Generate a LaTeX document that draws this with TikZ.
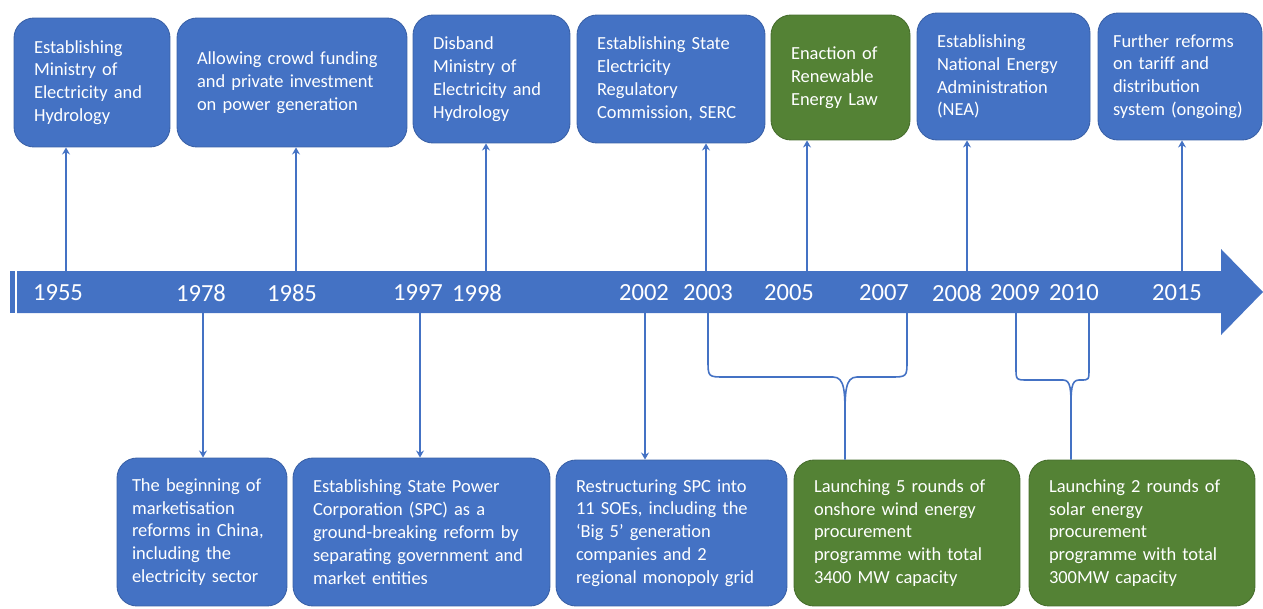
\documentclass[tikz,border=0pt]{standalone}
\usepackage{fontspec}
\setmainfont{Carlito}
\usetikzlibrary{arrows.meta}
\definecolor{tlblue}{HTML}{4472C4}
\definecolor{tlgreen}{HTML}{548235}
\tikzset{
  event/.style={
    rectangle, rounded corners=0.4cm, draw=#1!85!black, line width=0.5pt,
    fill=#1, text=white, align=left, inner xsep=0.4cm, inner ysep=0pt,
    font=\fontsize{10.5}{13}\selectfont
  },
  year/.style={text=white, inner sep=0pt, font=\fontsize{14}{16}\selectfont},
  link/.style={-{Stealth[length=4pt,width=4.5pt]}, line width=0.9pt, tlblue},
  brace/.style={line width=0.9pt, tlblue}
}

\begin{document}
\begin{tikzpicture}[x=0.02cm, y=-0.02cm]
  \useasboundingbox (0,0) rectangle (1263,608);
  % Time bar
  \fill[tlblue] (10,271) rectangle (15,313);
  \fill[tlblue] (17,271) -- (1221,271) -- (1221,249) -- (1263,292)
    -- (1221,335) -- (1221,313) -- (17,313) -- cycle;
  % Years
  \node[year] (y1955) at (58,293) {1955};
  \node[year] (y1978) at (201,293) {1978};
  \node[year] (y1985) at (292,293) {1985};
  \node[year] (y1997) at (418,293) {1997};
  \node[year] (y1998) at (477,293) {1998};
  \node[year] (y2002) at (644,293) {2002};
  \node[year] (y2003) at (708,293) {2003};
  \node[year] (y2005) at (789,293) {2005};
  \node[year] (y2007) at (884,293) {2007};
  \node[year] (y2008) at (957,293) {2008};
  \node[year] (y2009) at (1015,293) {2009};
  \node[year] (y2010) at (1074,293) {2010};
  \node[year] (y2015) at (1177,293) {2015};
  % Upper events
  \node[event=tlblue, text width=2.32cm, minimum height=2.58cm]
    (t1955) at (92,82.5) {Establishing\\Ministry of\\Electricity and\\Hydrology};
  \node[event=tlblue, text width=3.8cm, minimum height=2.58cm]
    (t1985) at (292,82.5) {Allowing crowd funding\\and private investment\\on power generation};
  \node[event=tlblue, text width=2.34cm, minimum height=2.56cm]
    (t1998) at (491.5,79) {Disband\\Ministry of\\Electricity and\\Hydrology};
  \node[event=tlblue, text width=2.96cm, minimum height=2.56cm]
    (t2003) at (671,79) {Establishing State\\Electricity\\Regulatory\\Commission, SERC};
  \node[event=tlgreen, text width=1.98cm, minimum height=2.5cm]
    (t2005) at (840.5,77.5) {Enaction of\\Renewable\\Energy Law};
  \node[event=tlblue, text width=2.66cm, minimum height=2.54cm]
    (t2008) at (1003.5,76.5) {Establishing\\National Energy\\Administration\\(NEA)};
  \node[event=tlblue, text width=2.68cm, inner xsep=0.3cm, minimum height=2.54cm]
    (t2015) at (1180,76.5) {Further reforms\\on tariff and\\distribution\\system (ongoing)};
  % Lower events
  \node[event=tlblue, text width=2.8cm, inner xsep=0.3cm, minimum height=2.96cm]
    (b1978) at (202,532) {The beginning of\\marketisation\\reforms in China,\\including the\\electricity sector};
  \node[event=tlblue, text width=4.34cm, minimum height=2.96cm]
    (b1997) at (421.5,532) {Establishing State Power\\Corporation (SPC) as a\\ground-breaking reform by\\separating government and\\market entities};
  \node[event=tlblue, text width=3.82cm, minimum height=2.92cm]
    (b2002) at (671.5,533) {Restructuring SPC into\\11 SOEs, including the\\‘Big 5’ generation\\companies and 2\\regional monopoly grid};
  \node[event=tlgreen, text width=3.72cm, minimum height=2.92cm]
    (b0307) at (907,533) {Launching 5 rounds of\\onshore wind energy\\procurement\\programme with total\\3400 MW capacity};
  \node[event=tlgreen, text width=3.72cm, minimum height=2.92cm]
    (b0910) at (1142,533) {Launching 2 rounds of\\solar energy\\procurement\\programme with total\\300MW capacity};
  % Links up
  \foreach \yr/\x in {1955/66, 1985/296, 1998/486, 2003/706,
                      2005/807, 2008/967, 2015/1182}{%
    \coordinate (a\yr) at (\x,271);
    \draw[link] (a\yr) -- (a\yr |- t\yr.south);}
  % Links down
  \foreach \yr/\x in {1978/203, 1997/420, 2002/645}{%
    \coordinate (a\yr) at (\x,313);
    \draw[link] (a\yr) -- (a\yr |- b\yr.north);}
  % Brace 2003--2007
  \coordinate (k2003) at (708,313);
  \coordinate (k2007) at (907,313);
  \coordinate (k0307) at (845,420);
  \draw[brace] (k2003) -- (708,360) .. controls (708,377) .. (725,377)
    -- (833,377) .. controls (845,377) and (845,392) .. (k0307)
    -- (k0307 |- b0307.north);
  \draw[brace] (k2007) -- (907,360) .. controls (907,377) .. (890,377)
    -- (857,377) .. controls (845,377) and (845,392) .. (k0307);
  % Brace 2009--2010
  \coordinate (k2009) at (1016,313);
  \coordinate (k2010) at (1089,313);
  \coordinate (k0910) at (1071,410);
  \draw[brace] (k2009) -- (1016,368) .. controls (1016,380) .. (1028,380)
    -- (1063,380) .. controls (1071,380) and (1071,390) .. (k0910)
    -- (k0910 |- b0910.north);
  \draw[brace] (k2010) -- (1089,368) .. controls (1089,380) .. (1081,380)
    -- (1079,380) .. controls (1071,380) and (1071,390) .. (k0910);
\end{tikzpicture}
\end{document}
